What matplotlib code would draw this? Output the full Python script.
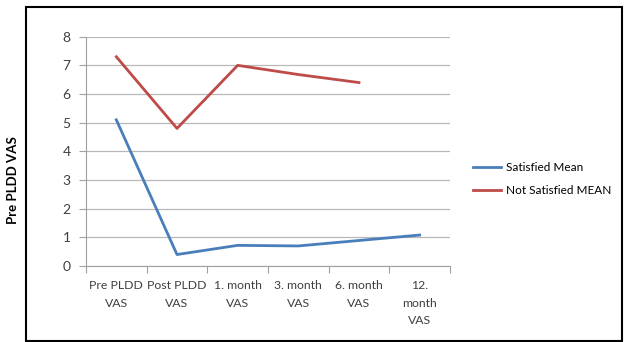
import matplotlib.pyplot as plt
from matplotlib.patches import Rectangle

plt.rcParams['font.family'] = ['Lato', 'DejaVu Sans']

categories = ['Pre PLDD\nVAS', 'Post PLDD\nVAS', '1. month\nVAS', '3. month\nVAS',
              '6. month\nVAS', '12.\nmonth\nVAS']
satisfied = [5.1, 0.4, 0.72, 0.7, 0.89, 1.08]
not_satisfied = [7.3, 4.8, 7.0, 6.68, 6.4]

fig = plt.figure(figsize=(6.24, 3.42), dpi=100)
ax = fig.add_axes([86 / 624, 1 - 266 / 342, (450 - 86) / 624, (266 - 36.7) / 342])

x1 = list(range(len(satisfied)))
x2 = list(range(len(not_satisfied)))
ax.plot(x1, satisfied, color='#4A7EBB', lw=2.0, label='Satisfied Mean')
ax.plot(x2, not_satisfied, color='#BE4B48', lw=2.0, label='Not Satisfied MEAN')

ax.set_xlim(-0.5, 5.5)
ax.set_ylim(0, 8)
ax.set_yticks(range(0, 9))
ax.set_xticks([i - 0.5 for i in range(7)])
ax.set_xticklabels([])
ax.set_xticks(range(6), minor=True)
ax.set_xticklabels(categories, minor=True, fontsize=8.8, color='#404040', linespacing=1.75)
ax.tick_params(axis='x', which='minor', length=0, pad=10)
ax.tick_params(axis='x', which='major', length=5, color='#A0A0A0', direction='out')
ax.tick_params(axis='y', length=5, color='#A0A0A0', labelsize=10, labelcolor='#404040', pad=6)
ax.grid(axis='y', color='#B8B8B8', lw=0.9)
ax.set_axisbelow(True)
for s in ['top', 'right']:
    ax.spines[s].set_visible(False)
for s in ['left', 'bottom']:
    ax.spines[s].set_color('#A0A0A0')

fig.text(13 / 624, 1 - 180 / 342, 'Pre PLDD VAS', rotation=90, fontsize=9.5,
         fontweight='bold', ha='center', va='center')

ax.legend(loc='center left', bbox_to_anchor=(462 / 624, 1 - 179 / 342),
          bbox_transform=fig.transFigure, frameon=False, fontsize=8.5,
          handlelength=2.4, labelspacing=1.05, handletextpad=0.4)

fig.patches.append(Rectangle((26 / 624, 1 / 342), 596 / 624, 334 / 342,
                             transform=fig.transFigure, fill=False,
                             edgecolor='black', lw=1.5))

fig.savefig('out.png', dpi=100)
